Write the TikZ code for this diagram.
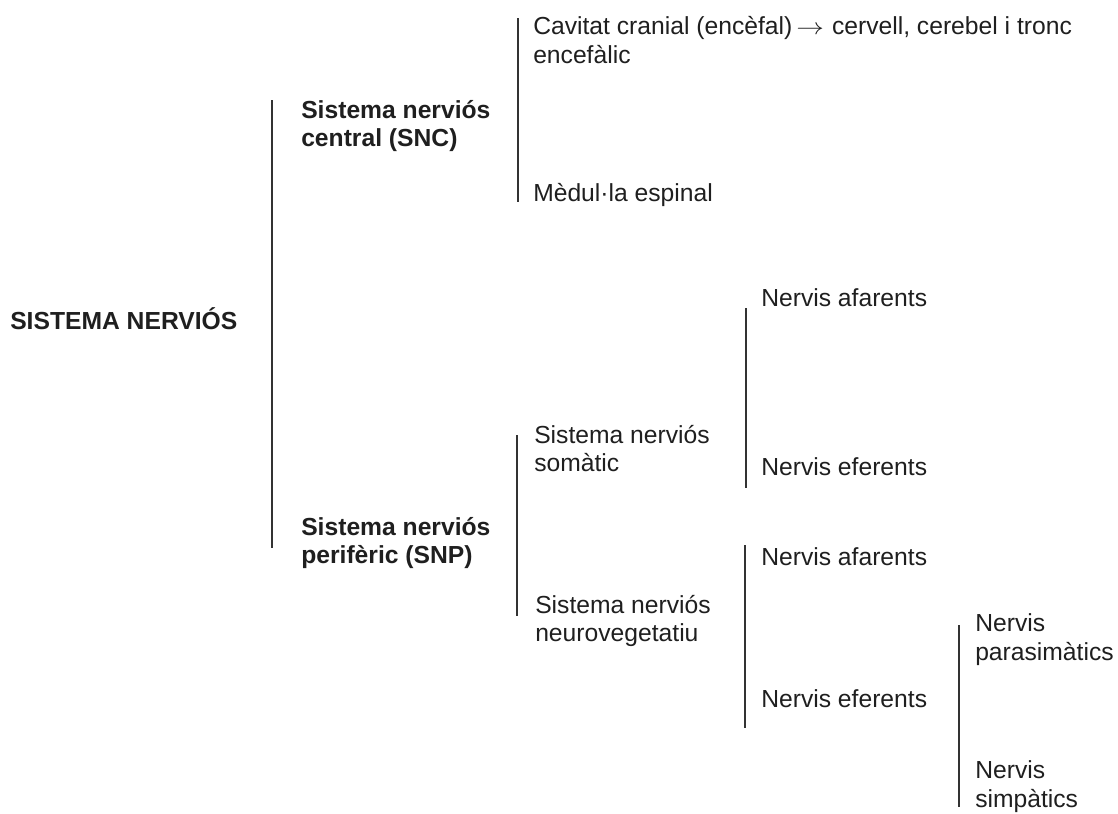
\documentclass[tikz,border=0pt]{standalone}
\usepackage{fontspec}
\usepackage{graphicx}
\setmainfont{Liberation Sans}
\begin{document}
\begin{tikzpicture}[x=0.75pt,y=-0.75pt,
  lbl/.style={anchor=base west,inner sep=0pt,align=left,text=black!88,
    font=\fontsize{18.5}{21.3}\selectfont},
  blbl/.style={lbl,font=\fontsize{18.5}{21.3}\selectfont\bfseries},
  bar/.style={draw=black!80,line width=1.1pt}]
\useasboundingbox (0,0) rectangle (1118,814);
% labels (multi-line nodes are anchored at the baseline of their last line)
\node[blbl] (sn) at (10,329) {SISTEMA NERVIÓS};
\node[blbl] (snc) at (301,146.5) {Sistema nerviós\\central (SNC)};
\node[blbl] (snp) at (301,563.5) {Sistema nerviós\\perifèric (SNP)};
\node[lbl] (cav) at (533,63) {Cavitat cranial (encèfal)\hspace{3pt}\scalebox{1.2}[1]{$\rightarrow$}\hspace{6pt}cervell, cerebel i tronc\\encefàlic};
\node[lbl] (med) at (533,201) {Mèdul·la espinal};
\node[lbl] (som) at (534,471.5) {Sistema nerviós\\somàtic};
\node[lbl] (neu) at (535,641.5) {Sistema nerviós\\neurovegetatiu};
\node[lbl] (afa1) at (761,306) {Nervis afarents};
\node[lbl] (efe1) at (761,475) {Nervis eferents};
\node[lbl] (afa2) at (761,565) {Nervis afarents};
\node[lbl] (efe2) at (761,707) {Nervis eferents};
\node[lbl] (para) at (975,660) {Nervis\\parasimàtics};
\node[lbl] (simp) at (975,807) {Nervis\\simpàtics};
% bracket lines
\coordinate (l1t) at (272,100); \coordinate (l1b) at (272,548);
\coordinate (l2t) at (518,18);  \coordinate (l2b) at (518,202);
\coordinate (l3t) at (517,435); \coordinate (l3b) at (517,616);
\coordinate (l4t) at (746,308); \coordinate (l4b) at (746,488);
\coordinate (l5t) at (745,545); \coordinate (l5b) at (745,728);
\coordinate (l6t) at (959,625); \coordinate (l6b) at (959,807);
\draw[bar] (l1t) -- (l1b);
\draw[bar] (l2t) -- (l2b);
\draw[bar] (l3t) -- (l3b);
\draw[bar] (l4t) -- (l4b);
\draw[bar] (l5t) -- (l5b);
\draw[bar] (l6t) -- (l6b);
\end{tikzpicture}
\end{document}
